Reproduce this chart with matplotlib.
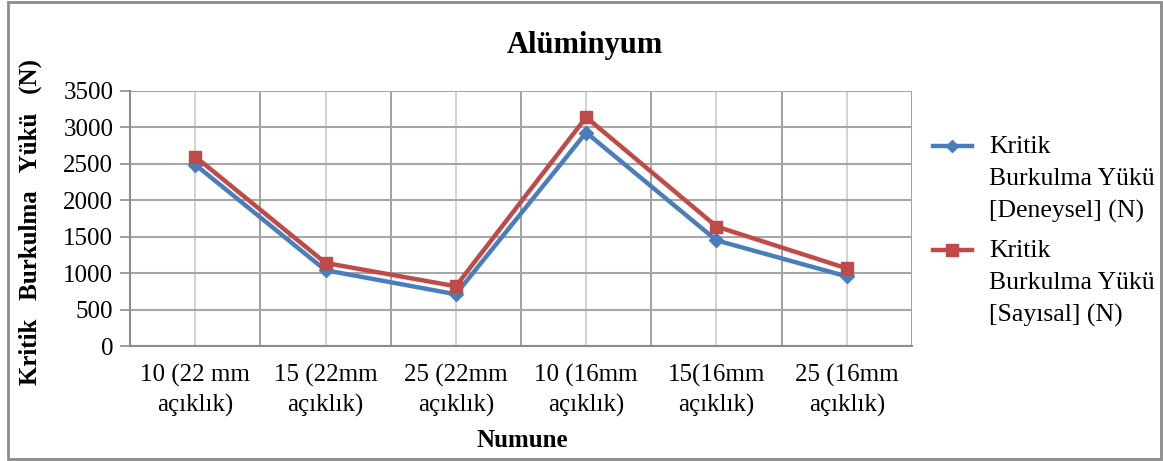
import matplotlib
matplotlib.use("Agg")
import matplotlib.pyplot as plt
from matplotlib.lines import Line2D
from matplotlib.patches import Rectangle

plt.rcParams['font.family'] = ['Liberation Serif', 'DejaVu Serif']

categories = ["10 (22 mm\naçıklık)", "15 (22mm\naçıklık)", "25 (22mm\naçıklık)",
              "10 (16mm\naçıklık)", "15(16mm\naçıklık)", "25 (16mm\naçıklık)"]
deneysel = [2490, 1040, 710, 2930, 1450, 955]
sayisal = [2600, 1140, 820, 3140, 1640, 1065]
yticks = [0, 500, 1000, 1500, 2000, 2500, 3000, 3500]
legend_labels = ["Kritik\nBurkulma Yükü\n[Deneysel] (N)",
                 "Kritik\nBurkulma Yükü\n[Sayısal] (N)"]

W, H = 1163, 461
fig = plt.figure(figsize=(W / 100, H / 100), dpi=100)
ax = fig.add_axes([130 / W, 1 - 346 / H, (912 - 130) / W, (346 - 91) / H])

blue = '#4A7EBB'
red = '#BE4B48'
x = list(range(len(categories)))
ax.plot(x, deneysel, color=blue, lw=3.2, marker='D', ms=7, zorder=4)
ax.plot(x, sayisal, color=red, lw=3.2, marker='s', ms=9, zorder=5)

ax.set_xlim(-0.5, len(categories) - 0.5)
ax.set_ylim(0, 3500)
ax.set_yticks(yticks)
ax.set_yticklabels([str(v) for v in yticks], fontsize=18)
ax.set_xticks(x)
ax.set_xticklabels(categories, fontsize=18, linespacing=1.4)
ax.set_xticks([i - 0.5 for i in range(len(categories) + 1)], minor=True)
ax.tick_params(axis='x', which='both', length=0, pad=13)
ax.tick_params(axis='y', length=7, width=1.2, color='#8c8c8c', pad=5)

ax.grid(True, axis='y', color='#a6a6a6', lw=1.5)
ax.grid(True, axis='x', which='major', color='#cfcfcf', lw=1.3)
ax.grid(True, axis='x', which='minor', color='#9a9a9a', lw=1.3)
ax.set_axisbelow(True)
for s in ['top', 'right']:
    ax.spines[s].set_visible(False)
ax.spines['left'].set_color('#8c8c8c')
ax.spines['left'].set_linewidth(1.5)
ax.spines['bottom'].set_color('#8c8c8c')
ax.spines['bottom'].set_linewidth(1.5)

fig.text(585 / W, 1 - 45 / H, "Alüminyum", fontsize=22, fontweight='bold',
         ha='center', va='center')
fig.text(522 / W, 1 - 440 / H, "Numune", fontsize=18, fontweight='bold',
         ha='center', va='center')
fig.text(30 / W, 1 - 222 / H, "Kritik   Burkulma   Yükü   (N)", fontsize=18,
         fontweight='bold', rotation=90, ha='center', va='center')

# legend (manual layout)
for i, (lab, col, mk, ms) in enumerate(zip(legend_labels, [blue, red], ['D', 's'], [6, 9])):
    y0 = 1 - (146 + i * 104) / H
    fig.add_artist(Line2D([933 / W, 972 / W], [y0, y0], color=col, lw=3.2,
                          transform=fig.transFigure))
    fig.add_artist(Line2D([952 / W], [y0], color=col, marker=mk, ms=ms,
                          transform=fig.transFigure))
    fig.text(989 / W, y0 + 10 / H, lab, fontsize=18.5, ha='left', va='top',
             linespacing=1.58)

fig.add_artist(Rectangle((8 / W, 2 / H), (1161 - 8) / W, (459 - 2) / H,
                         fill=False, edgecolor='#8c8c8c', lw=2,
                         transform=fig.transFigure))

fig.savefig("out.png", dpi=100)
